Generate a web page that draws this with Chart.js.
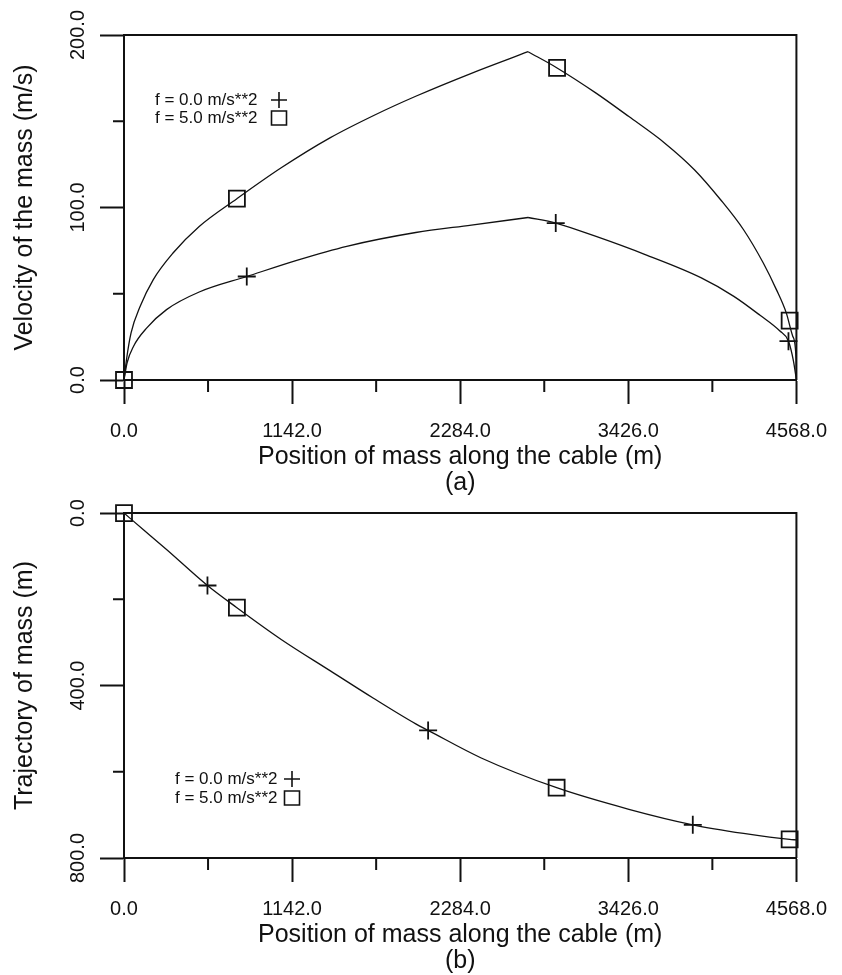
<!DOCTYPE html>
<html>
<head>
<meta charset="utf-8">
<script src="https://cdn.jsdelivr.net/npm/chart.js@4.4.1/dist/chart.umd.min.js"></script>
<style>
  body { margin: 0; background: #fff; }
  #wrap { position: relative; width: 842px; height: 975px; }
  canvas { position: absolute; left: 0; }
  #velChart { top: 0; }
  #trajChart { top: 500px; }
</style>
</head>
<body>
<div id="wrap">
  <canvas id="velChart" width="842" height="500"></canvas>
  <canvas id="trajChart" width="842" height="475"></canvas>
</div>
<script>
// axis ticks
const posTicks = [0, 1142, 2284, 3426, 4568];
const posMinor = [571, 1713, 2855, 3997];
const velTicks = [0, 100, 200];
const velMinor = [50, 150];
const trajTicks = [0, 400, 800];
const trajMinor = [200, 600];

const legendLabels = ['f = 0.0 m/s**2', 'f = 5.0 m/s**2'];

// (a) velocity of the mass vs position, f = 0.0
const velPos0 = [0, 21, 65, 155, 289, 511, 834, 1179, 1513, 1982, 2360, 2745, 2933, 3207, 3541, 3922, 4143, 4321, 4454, 4514, 4548, 4568];
const vel0 = [0, 10, 19.6, 30.2, 40.8, 51, 60, 69.5, 77.5, 85.5, 89.8, 94.2, 91, 83.2, 72.7, 59.2, 48.5, 37.5, 28.5, 22.5, 11, 0];
// f = 5.0
const velPos5 = [0, 17, 48, 110, 199, 333, 511, 767, 1068, 1402, 1700, 1982, 2360, 2745, 2942, 3207, 3430, 3674, 3875, 4053, 4209, 4343, 4432, 4499, 4543, 4566, 4568];
const vel5 = [0, 11.9, 27.3, 42.7, 58.2, 73.6, 89, 105.1, 123, 140.5, 153.5, 164.5, 177.8, 190.3, 180.9, 166.3, 152.7, 137.3, 121.9, 104.5, 87.1, 67.8, 52.4, 38.9, 25.4, 11.9, 0];
// symbols
const velMarkPos0 = [834, 2933, 4514];
const velMark0 = [60, 91, 22.5];
const velMarkPos5 = [0, 767, 2942, 4522];
const velMark5 = [0, 105.1, 180.9, 34.4];

// (b) trajectory (same path for both cases)
const trajPos = [0, 132, 289, 567, 767, 1068, 1402, 1692, 1982, 2066, 2427, 2939, 3430, 3864, 4209, 4522, 4568];
const traj = [0, 38.5, 84.4, 167.9, 219.4, 293, 366, 429, 489, 504, 568, 637, 687, 723, 743, 757, 758];
const trajMarkPos0 = [567, 2066, 3864];
const trajMark0 = [167.9, 504, 723];
const trajMarkPos5 = [0, 767, 2939, 4522];
const trajMark5 = [0, 219.4, 637, 757];

const INK = '#111';
const FONT = "'Liberation Sans', Arial, sans-serif";

const pts = (xs, ys) => xs.map((x, i) => ({ x: x, y: ys[i] }));

function curve(data) {
  return { data: data, showLine: true, borderColor: INK, borderWidth: 1.3, pointRadius: 0,
           cubicInterpolationMode: 'monotone', clip: false };
}

// split at the peak so the corner stays sharp
function peakSplit(xs, ys) {
  const k = ys.indexOf(Math.max(...ys));
  return [curve(pts(xs.slice(0, k + 1), ys.slice(0, k + 1))), curve(pts(xs.slice(k), ys.slice(k)))];
}

function markers(xs, ys, style) {
  return { data: pts(xs, ys), showLine: false, pointStyle: style,
           pointRadius: style === 'rect' ? 11.3 : 9, pointHoverRadius: 0,
           borderColor: INK, backgroundColor: 'rgba(0,0,0,0)', pointBorderWidth: 1.8, clip: false };
}

function xScale(titleLines, height, titlePad) {
  return {
    type: 'linear', min: 0, max: 4568,
    afterBuildTicks: s => { s.ticks = posTicks.map(v => ({ value: v })); },
    afterFit: s => { s.height = height; },
    ticks: { callback: v => v.toFixed(1), font: { family: FONT, size: 20 }, color: INK,
             padding: 15, maxRotation: 0, autoSkip: false },
    grid: { drawOnChartArea: false, tickLength: 24, tickWidth: 2, tickColor: INK },
    border: { color: INK, width: 2 },
    title: { display: true, text: titleLines, color: INK,
             font: { family: FONT, size: 25, lineHeight: 1.05 }, padding: { top: 0, bottom: titlePad } }
  };
}

function yScale(title, tickVals, max, reverse) {
  return {
    type: 'linear', min: 0, max: max, reverse: reverse,
    afterBuildTicks: s => { s.ticks = tickVals.map(v => ({ value: v })); },
    afterFit: s => { s.width = 124; },
    ticks: { callback: v => v.toFixed(1), font: { family: FONT, size: 20 }, color: INK,
             minRotation: 90, maxRotation: 90, crossAlign: 'center', padding: -4, autoSkip: false },
    grid: { drawOnChartArea: false, tickLength: 24, tickWidth: 2, tickColor: INK },
    border: { color: INK, width: 2 },
    title: { display: true, text: title, color: INK,
             font: { family: FONT, size: 25, lineHeight: 1.05 }, padding: { top: 12, bottom: 0 } }
  };
}

function drawMark(ctx, style, x, y) {
  ctx.beginPath();
  if (style === 'cross') {
    ctx.moveTo(x - 8, y); ctx.lineTo(x + 8, y);
    ctx.moveTo(x, y - 8); ctx.lineTo(x, y + 8);
  } else {
    ctx.rect(x - 7.5, y - 7, 15, 14);
  }
  ctx.stroke();
}

// frame on top/right, minor ticks and the inline key
const decor = {
  id: 'decor',
  afterDraw(chart, _args, opts) {
    const { ctx, chartArea: a, scales } = chart;
    ctx.save();
    ctx.strokeStyle = INK;
    ctx.lineWidth = 2;
    ctx.beginPath();
    ctx.moveTo(a.left, a.top);
    ctx.lineTo(a.right, a.top);
    ctx.lineTo(a.right, a.bottom);
    ctx.stroke();

    ctx.beginPath();
    opts.xMinor.forEach(v => {
      const px = scales.x.getPixelForValue(v);
      ctx.moveTo(px, a.bottom); ctx.lineTo(px, a.bottom + 12);
    });
    opts.yMinor.forEach(v => {
      const py = scales.y.getPixelForValue(v);
      ctx.moveTo(a.left - 11, py); ctx.lineTo(a.left, py);
    });
    ctx.stroke();

    ctx.font = '17px ' + FONT;
    ctx.fillStyle = INK;
    ctx.textBaseline = 'middle';
    ctx.lineWidth = 1.6;
    const k = opts.key;
    legendLabels.forEach((t, i) => {
      const y = k.y + i * k.gap;
      ctx.fillText(t, k.x, y);
      drawMark(ctx, i === 0 ? 'cross' : 'rect', k.markX, y);
    });
    ctx.restore();
  }
};

Chart.defaults.font.family = FONT;
Chart.defaults.color = INK;

new Chart(document.getElementById('velChart'), {
  type: 'scatter',
  data: {
    datasets: [
      ...peakSplit(velPos0, vel0),
      ...peakSplit(velPos5, vel5),
      markers(velMarkPos0, velMark0, 'cross'),
      markers(velMarkPos5, velMark5, 'rect')
    ]
  },
  options: {
    responsive: false,
    animation: false,
    events: [],
    layout: { padding: { top: 35, right: 35, bottom: 0, left: 0 } },
    plugins: {
      legend: { display: false },
      tooltip: { enabled: false },
      decor: { xMinor: posMinor, yMinor: velMinor, key: { x: 155, y: 100, gap: 18, markX: 279 } }
    },
    scales: {
      x: xScale(['Position of mass along the cable (m)', '(a)'], 120, 4),
      y: yScale('Velocity of the mass (m/s)', velTicks, 200, false)
    }
  },
  plugins: [decor]
});

new Chart(document.getElementById('trajChart'), {
  type: 'scatter',
  data: {
    datasets: [
      curve(pts(trajPos, traj)),
      markers(trajMarkPos0, trajMark0, 'cross'),
      markers(trajMarkPos5, trajMark5, 'rect')
    ]
  },
  options: {
    responsive: false,
    animation: false,
    events: [],
    layout: { padding: { top: 13, right: 35, bottom: 0, left: 0 } },
    plugins: {
      legend: { display: false },
      tooltip: { enabled: false },
      decor: { xMinor: posMinor, yMinor: trajMinor, key: { x: 175, y: 279, gap: 19, markX: 292 } }
    },
    scales: {
      x: xScale(['Position of mass along the cable (m)', '(b)'], 117, 1),
      y: yScale('Trajectory of mass (m)', trajTicks, 800, true)
    }
  },
  plugins: [decor]
});
</script>
</body>
</html>
